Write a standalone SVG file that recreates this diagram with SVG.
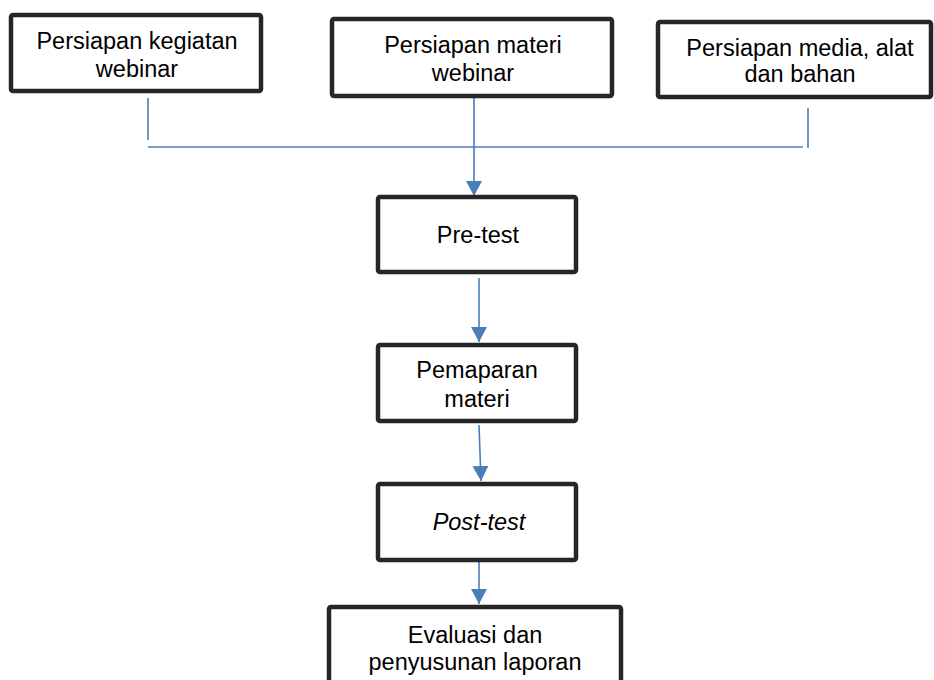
<svg xmlns="http://www.w3.org/2000/svg" width="934" height="680" viewBox="0 0 934 680">
<defs>
<style>
.box{fill:#ffffff;stroke:#262626;stroke-width:4.5;}
.lbl{font-family:"Liberation Sans",Arial,sans-serif;font-size:23.5px;fill:#000000;text-anchor:middle;}
.con{fill:none;stroke:#4a7ebb;stroke-width:1.6;}
</style>
<marker id="ah" markerUnits="userSpaceOnUse" viewBox="0 0 15 16" refX="15" refY="8" markerWidth="15" markerHeight="16" orient="auto">
<path d="M0,0 L15,8 L0,16 z" fill="#4a7ebb"/>
</marker>
</defs>
<rect width="934" height="680" fill="#ffffff"/>
<g id="connectors">
<path class="con" d="M148,98 V140"/>
<path class="con" d="M148,147 H803"/>
<path class="con" d="M808,108 V148"/>
<path class="con" d="M474,98 V196" marker-end="url(#ah)"/>
<path class="con" d="M479,278 V342" marker-end="url(#ah)"/>
<path class="con" d="M479,425 L481,481" marker-end="url(#ah)"/>
<path class="con" d="M479,562 V604" marker-end="url(#ah)"/>
</g>
<g id="n1">
<rect class="box" x="11" y="15" width="250" height="76" rx="2"/>
<text class="lbl" x="137" y="49">Persiapan kegiatan</text>
<text class="lbl" x="137" y="77">webinar</text>
</g>
<g id="n2">
<rect class="box" x="332" y="19" width="280" height="77" rx="2"/>
<text class="lbl" x="473" y="53">Persiapan materi</text>
<text class="lbl" x="473" y="81">webinar</text>
</g>
<g id="n3">
<rect class="box" x="658" y="22" width="273" height="75" rx="2"/>
<text class="lbl" x="800" y="56">Persiapan media, alat</text>
<text class="lbl" x="800" y="82">dan bahan</text>
</g>
<g id="n4">
<rect class="box" x="378" y="197" width="198" height="75" rx="2"/>
<text class="lbl" x="478" y="243">Pre-test</text>
</g>
<g id="n5">
<rect class="box" x="378" y="345" width="198" height="76" rx="2"/>
<text class="lbl" x="477" y="378">Pemaparan</text>
<text class="lbl" x="477" y="407">materi</text>
</g>
<g id="n6">
<rect class="box" x="378" y="484" width="198" height="76" rx="2"/>
<text class="lbl" x="479" y="530" font-style="italic">Post-test</text>
</g>
<g id="n7">
<rect class="box" x="329" y="607" width="292" height="90" rx="2"/>
<text class="lbl" x="475" y="643">Evaluasi dan</text>
<text class="lbl" x="475" y="670">penyusunan laporan</text>
</g>
</svg>
